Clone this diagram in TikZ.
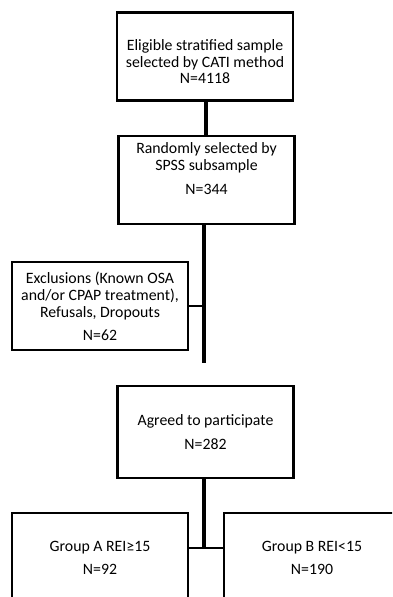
\documentclass[tikz,border=0pt]{standalone}
\usepackage{fontspec}
\setmainfont{Carlito}
\begin{document}
\begin{tikzpicture}[x=1bp,y=-1bp,
  box/.style={draw=black,line width=2.4bp,minimum width=176bp,minimum height=88bp,inner sep=0pt},
  txt/.style={align=center,font=\fontsize{15.8bp}{17bp}\selectfont,inner sep=0pt},
  conn/.style={draw=black,line width=4bp}]
\clip (0,0) rectangle (392,597);
\fill[white] (0,0) rectangle (392,597);
% boxes
\node[box] (b1) at (205,56.5) {};
\node[box] (b2) at (206.5,180) {};
\node[box] (ex) at (100,306) {};
\node[box,minimum height=92bp] (b4) at (205.5,432) {};
\node[box] (ga) at (100,557) {};
\node[box] (gb) at (312,557) {};
% texts
\node[txt] (t1) at (205,62) {Eligible stratified sample\\selected by CATI method\\[-1bp]N=4118};
\node[txt] (t2) at (206.5,169) {Randomly selected by\\SPSS subsample\\[7bp]N=344};
\node[txt] (tex) at (100,306) {Exclusions (Known OSA\\and/or CPAP treatment),\\Refusals, Dropouts\\[6bp]N=62};
\node[txt] (t4) at (205.5,432) {Agreed to participate\\[7bp]N=282};
\node[txt] (tga) at (100,558) {Group A REI≥15\\[6bp]N=92};
\node[txt] (tgb) at (312,558) {Group B REI<15\\[6bp]N=190};
% connectors
\coordinate (e) at (204,363);
\coordinate (j) at (204,548);
\draw[conn] (b1.south -| 205.5,0) -- (b2.north -| 205.5,0);
\draw[conn] (b2.south -| e) -- (e);
\draw[conn,line width=2.4bp] (ex.east) -- (ex.east -| e);
\draw[conn] (b4.south -| j) -- (j);
\draw[conn,line width=2.4bp] (ga.east |- j) -- (gb.west |- j);
\end{tikzpicture}
\end{document}
